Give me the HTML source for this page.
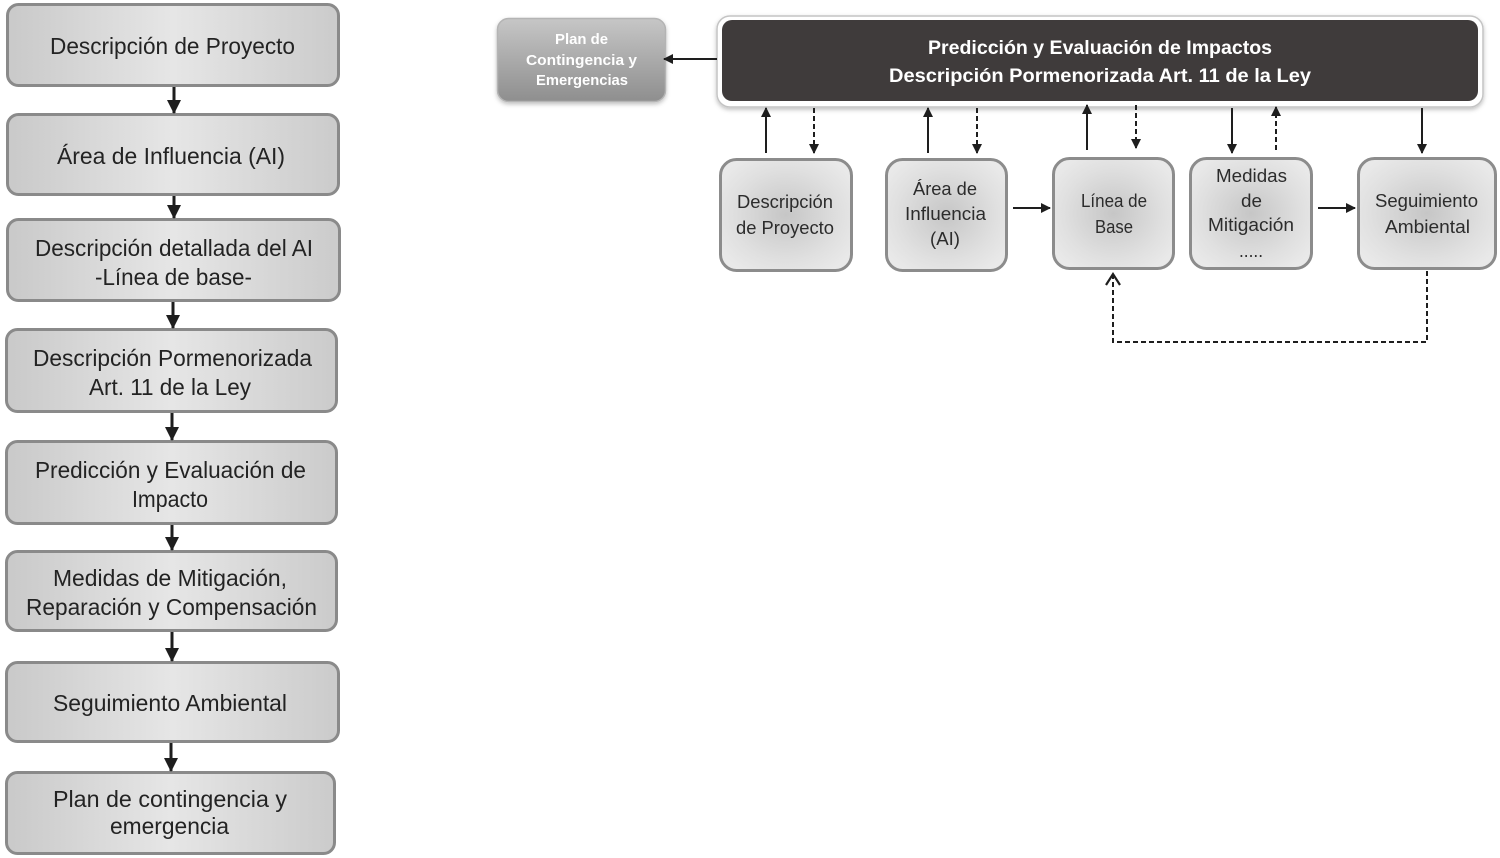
<!DOCTYPE html>
<html>
<head>
<meta charset="utf-8">
<style>
  html, body { margin:0; padding:0; background:#ffffff; }
  body { width:1500px; height:858px; overflow:hidden; }
  svg { display:block; }
  .lt { font-family:"Liberation Sans", Arial, sans-serif; font-size:23px; fill:#232323; }
  .st { font-family:"Liberation Sans", Arial, sans-serif; font-size:18.5px; fill:#2c2c2c; }
  .ht { font-family:"Liberation Sans", Arial, sans-serif; font-size:19.5px; font-weight:bold; fill:#ffffff; }
  .pt { font-family:"Liberation Sans", Arial, sans-serif; font-size:14.5px; font-weight:bold; fill:#ffffff; }
</style>
</head>
<body>
<svg width="1500" height="858" viewBox="0 0 1500 858" xmlns="http://www.w3.org/2000/svg">
  <defs>
    <linearGradient id="lg" x1="0" y1="0" x2="1" y2="0">
      <stop offset="0" stop-color="#c9c9c9"/>
      <stop offset="0.5" stop-color="#e6e6e6"/>
      <stop offset="1" stop-color="#cbcbcb"/>
    </linearGradient>
    <radialGradient id="rg" cx="0.5" cy="0.5" r="0.6">
      <stop offset="0" stop-color="#c6c6c6"/>
      <stop offset="0.7" stop-color="#e0e0e0"/>
      <stop offset="1" stop-color="#e9e9e9"/>
    </radialGradient>
    <linearGradient id="pg" x1="0" y1="0" x2="0" y2="1">
      <stop offset="0" stop-color="#c6c6c6"/>
      <stop offset="1" stop-color="#8e8e8e"/>
    </linearGradient>
    <marker id="ah" markerWidth="10" markerHeight="10" refX="9" refY="5" orient="auto" markerUnits="userSpaceOnUse">
      <path d="M0,0 L10,5 L0,10 z" fill="#1e1e1e"/>
    </marker>
    <marker id="ahb" markerWidth="14" markerHeight="14" refX="13" refY="7" orient="auto" markerUnits="userSpaceOnUse">
      <path d="M0,0 L14,7 L0,14 z" fill="#1e1e1e"/>
    </marker>
    <filter id="sh" x="-10%" y="-10%" width="120%" height="130%">
      <feDropShadow dx="0" dy="2" stdDeviation="2" flood-color="#000" flood-opacity="0.25"/>
    </filter>
  </defs>

  <!-- LEFT COLUMN -->
  <g stroke="#8a8a8a" stroke-width="3" fill="url(#lg)">
    <rect x="7.5" y="4.5" width="331" height="81" rx="11"/>
    <rect x="7.5" y="114.5" width="331" height="80" rx="11"/>
    <rect x="7.5" y="219.5" width="332" height="81" rx="11"/>
    <rect x="6.5" y="329.5" width="330" height="82" rx="11"/>
    <rect x="6.5" y="441.5" width="330" height="82" rx="11"/>
    <rect x="6.5" y="551.5" width="330" height="79" rx="11"/>
    <rect x="6.5" y="662.5" width="332" height="79" rx="11"/>
    <rect x="6.5" y="772.5" width="328" height="81" rx="11"/>
  </g>

  <g stroke="#1e1e1e" stroke-width="3" marker-end="url(#ahb)">
    <line x1="174" y1="87" x2="174" y2="113"/>
    <line x1="174" y1="196" x2="174" y2="218"/>
    <line x1="173" y1="302" x2="173" y2="328"/>
    <line x1="172" y1="413" x2="172" y2="440"/>
    <line x1="172" y1="525" x2="172" y2="550"/>
    <line x1="172" y1="632" x2="172" y2="661"/>
    <line x1="171" y1="743" x2="171" y2="771"/>
  </g>

  <text class="lt" x="50" y="54" textLength="245" lengthAdjust="spacingAndGlyphs">Descripción de Proyecto</text>
  <text class="lt" x="57" y="164" textLength="228" lengthAdjust="spacingAndGlyphs">Área de Influencia (AI)</text>
  <text class="lt" x="35" y="256" textLength="278" lengthAdjust="spacingAndGlyphs">Descripción detallada del AI</text>
  <text class="lt" x="95" y="285" textLength="157" lengthAdjust="spacingAndGlyphs">-Línea de base-</text>
  <text class="lt" x="33" y="366" textLength="279" lengthAdjust="spacingAndGlyphs">Descripción Pormenorizada</text>
  <text class="lt" x="89" y="395" textLength="162" lengthAdjust="spacingAndGlyphs">Art. 11 de la Ley</text>
  <text class="lt" x="35" y="478" textLength="271" lengthAdjust="spacingAndGlyphs">Predicción y Evaluación de</text>
  <text class="lt" x="132" y="507" textLength="76" lengthAdjust="spacingAndGlyphs">Impacto</text>
  <text class="lt" x="53" y="586" textLength="234" lengthAdjust="spacingAndGlyphs">Medidas de Mitigación,</text>
  <text class="lt" x="26" y="615" textLength="291" lengthAdjust="spacingAndGlyphs">Reparación y Compensación</text>
  <text class="lt" x="53" y="711" textLength="234" lengthAdjust="spacingAndGlyphs">Seguimiento Ambiental</text>
  <text class="lt" x="53" y="807" textLength="234" lengthAdjust="spacingAndGlyphs">Plan de contingencia  y</text>
  <text class="lt" x="110" y="834" textLength="119" lengthAdjust="spacingAndGlyphs">emergencia</text>

  <!-- PLAN DE CONTINGENCIA BOX -->
  <rect x="497.5" y="18.5" width="168" height="83" rx="11" fill="url(#pg)" stroke="#b4b4b4" stroke-width="1.5" filter="url(#sh)"/>
  <text class="pt" x="555" y="44" textLength="53" lengthAdjust="spacingAndGlyphs">Plan de</text>
  <text class="pt" x="526" y="65" textLength="111" lengthAdjust="spacingAndGlyphs">Contingencia y</text>
  <text class="pt" x="536" y="85" textLength="92" lengthAdjust="spacingAndGlyphs">Emergencias</text>

  <!-- DARK HEADER BOX -->
  <rect x="717" y="16" width="766" height="91" rx="13" fill="#ffffff" stroke="#c4c4c4" stroke-width="1.5" filter="url(#sh)"/>
  <rect x="722" y="20" width="756" height="81" rx="10" fill="#3f3b3b"/>
  <text class="ht" x="928" y="54" textLength="344" lengthAdjust="spacingAndGlyphs">Predicción y Evaluación  de Impactos</text>
  <text class="ht" x="889" y="82" textLength="422" lengthAdjust="spacingAndGlyphs">Descripción Pormenorizada  Art. 11 de la Ley</text>

  <!-- arrow to plan box -->
  <line x1="717" y1="59" x2="664" y2="59" stroke="#1e1e1e" stroke-width="2" marker-end="url(#ah)"/>

  <!-- SMALL BOXES -->
  <g stroke="#8c8c8c" stroke-width="3" fill="url(#rg)">
    <rect x="720.5" y="159.5" width="131" height="111" rx="16"/>
    <rect x="886.5" y="159.5" width="120" height="111" rx="16"/>
    <rect x="1053.5" y="158.5" width="120" height="110" rx="16"/>
    <rect x="1190.5" y="158.5" width="121" height="110" rx="16"/>
    <rect x="1358.5" y="158.5" width="137" height="110" rx="16"/>
  </g>

  <text class="st" x="737" y="208" textLength="96" lengthAdjust="spacingAndGlyphs">Descripción</text>
  <text class="st" x="736" y="234" textLength="98" lengthAdjust="spacingAndGlyphs">de Proyecto</text>
  <text class="st" x="913" y="195" textLength="64" lengthAdjust="spacingAndGlyphs">Área de</text>
  <text class="st" x="905" y="220" textLength="81" lengthAdjust="spacingAndGlyphs">Influencia</text>
  <text class="st" x="930" y="245" textLength="30" lengthAdjust="spacingAndGlyphs">(AI)</text>
  <text class="st" x="1081" y="207" textLength="66" lengthAdjust="spacingAndGlyphs">Línea de</text>
  <text class="st" x="1095" y="233" textLength="38" lengthAdjust="spacingAndGlyphs">Base</text>
  <text class="st" x="1216" y="182" textLength="71" lengthAdjust="spacingAndGlyphs">Medidas</text>
  <text class="st" x="1241" y="207" textLength="21" lengthAdjust="spacingAndGlyphs">de</text>
  <text class="st" x="1208" y="231" textLength="86" lengthAdjust="spacingAndGlyphs">Mitigación</text>
  <text class="st" x="1239" y="257" textLength="24" lengthAdjust="spacingAndGlyphs">.....</text>
  <text class="st" x="1375" y="207" textLength="103" lengthAdjust="spacingAndGlyphs">Seguimiento</text>
  <text class="st" x="1385" y="233" textLength="85" lengthAdjust="spacingAndGlyphs">Ambiental</text>

  <!-- CONNECTORS (solid) -->
  <g stroke="#1e1e1e" stroke-width="2" fill="none" marker-end="url(#ah)">
    <line x1="766" y1="153" x2="766" y2="108"/>
    <line x1="928" y1="153" x2="928" y2="108"/>
    <line x1="1087" y1="150" x2="1087" y2="105"/>
    <line x1="1232" y1="108" x2="1232" y2="153"/>
    <line x1="1422" y1="108" x2="1422" y2="153"/>
    <line x1="1013" y1="208" x2="1050" y2="208"/>
    <line x1="1318" y1="208" x2="1355" y2="208"/>
  </g>

  <!-- CONNECTORS (dashed) -->
  <g stroke="#1e1e1e" stroke-width="2" fill="none" stroke-dasharray="5 3" marker-end="url(#ah)">
    <line x1="814" y1="108" x2="814" y2="153"/>
    <line x1="977" y1="108" x2="977" y2="153"/>
    <line x1="1136" y1="105" x2="1136" y2="148"/>
    <line x1="1276" y1="150" x2="1276" y2="107"/>
  </g>

  <!-- feedback loop -->
  <path d="M1427,271 L1427,342 L1113,342 L1113,276" stroke="#1e1e1e" stroke-width="2" fill="none" stroke-dasharray="5 3"/>
  <path d="M1106,285 L1113,274 L1120,285" stroke="#1e1e1e" stroke-width="2.2" fill="none"/>
</svg>
</body>
</html>
